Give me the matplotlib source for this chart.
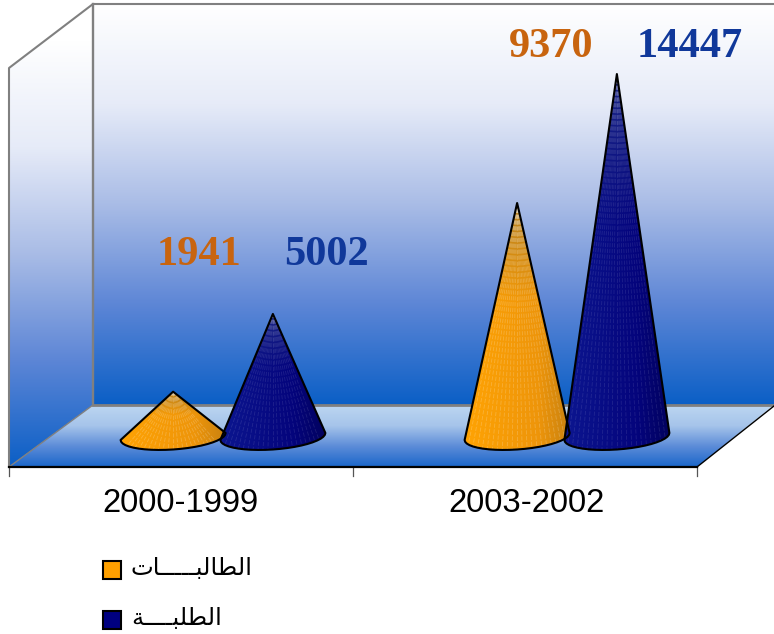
import numpy as np
import matplotlib
matplotlib.use('Agg')
import matplotlib.pyplot as plt
from matplotlib.colors import LinearSegmentedColormap, to_rgb
from matplotlib.patches import Polygon

# data
years = ['2000-1999', '2003-2002']
girls = [1941, 9370]
boys = [5002, 14447]
# arabic labels in visual order with presentation forms, matplotlib does no shaping
girls_label = '\ufe95\ufe8e' + '\u0640' * 5 + '\ufe92\ufedf\ufe8e\ufec4\ufedf\ufe8d'
boys_label = '\ufe94' + '\u0640' * 4 + '\ufe92\ufee0\ufec4\ufedf\ufe8d'

PX_PER_UNIT = 0.0254
BASE_PX = 441
CAT0_PX = 223
CAT_STEP = 344

plt.rcParams['font.family'] = ['Liberation Sans', 'DejaVu Sans']
fig = plt.figure(figsize=(7.74, 6.34), dpi=100)

# background in pixel coordinates
bg = fig.add_axes([0, 0, 1, 1])
bg.set_xlim(0, 774)
bg.set_ylim(634, 0)
bg.axis('off')

wall_cm = LinearSegmentedColormap.from_list('wall', ['#ffffff', '#e6ebf8', '#a9bce6', '#5d86d6', '#0b5fc6'])
floor_cm = LinearSegmentedColormap.from_list('floor', ['#bcd6f1', '#a6c4ea', '#5c8cd8', '#1a66ca'])
grad = np.linspace(0, 1, 256).reshape(-1, 1)


def fill_grad(pts, cm, y0, y1):
    im = bg.imshow(grad, cmap=cm, extent=[0, 774, y1, y0], aspect='auto', zorder=1)
    p = Polygon(pts, closed=True, transform=bg.transData, fc='none', ec='none')
    bg.add_patch(p)
    im.set_clip_path(p)


fill_grad([(93, 4), (774, 4), (774, 405), (93, 405)], wall_cm, 4, 405)
fill_grad([(9, 68), (93, 4), (93, 405), (9, 467)], wall_cm, 40, 467)
fill_grad([(93, 405), (774, 405), (697, 467), (9, 467)], floor_cm, 405, 467)
bg.set_xlim(0, 774)
bg.set_ylim(634, 0)

gray = '#808080'
bg.plot([9, 9, 93, 774], [467, 68, 4, 4], color=gray, lw=1.5, zorder=2)
bg.plot([93, 93], [4, 405], color=gray, lw=1.7, zorder=2)
bg.plot([93, 774], [405, 405], color=gray, lw=2, zorder=2)
bg.plot([9, 93], [467, 405], color=gray, lw=1, zorder=2)
bg.plot([697, 774], [467, 406], color='black', lw=1, zorder=2)
bg.plot([9, 697], [467, 467], color='black', lw=1.6, zorder=3)
for tx in [9, 353, 697]:
    bg.plot([tx, tx], [467, 476], color='#555555', lw=0.9, zorder=2)

# value axes over the whole figure, bars are placed through its scales
ax = fig.add_axes([0, 0, 1, 1], facecolor='none')
ax.axis('off')
xlim = (-CAT0_PX / CAT_STEP, (774 - CAT0_PX) / CAT_STEP)
ylim = (-(634 - BASE_PX) / PX_PER_UNIT, BASE_PX / PX_PER_UNIT)


def cone(x, value, dark, mid, light, apex, fan):
    hw = 52.5 / CAT_STEP
    # the base is a coarse polygon, that gives the small scallops of the original
    th = np.linspace(np.pi, 0, 23)
    t = np.cos(th)
    base_px = 436.5 - 3.5 * t + 13 * np.sin(th)
    base = (BASE_PX - base_px) / PX_PER_UNIT
    xs = x + t * hw
    pts = [(x, value)] + list(zip(xs[::-1], base[::-1]))
    ymin = base.min()
    # horizontal shading, darker near the apex
    tt = np.linspace(-1, 1, 120)
    vv = np.linspace(0, 1, 200)
    T, V = np.meshgrid(tt, vv)
    c0, c1, c2, c3 = [np.array(to_rgb(c)) for c in (light, mid, dark, apex)]
    side = ((T + 1) / 2)[..., None]
    rgb = np.where(side > 0.7, c1 + (c2 - c1) * (side - 0.7) / 0.3, c0 + (c1 - c0) * side / 0.7)
    k = np.clip((V - 0.6) / 0.4, 0, 1)[..., None]
    rgb = rgb * (1 - k) + c3 * k
    im = ax.imshow(rgb, origin='lower', extent=[x - hw, x + hw, ymin, value], aspect='auto', zorder=5)
    p = Polygon(pts, closed=True, transform=ax.transData, fc='none', ec='none', zorder=5)
    ax.add_patch(p)
    im.set_clip_path(p)
    # fan of faint facets from the apex
    for f in np.linspace(-0.95, 0.95, 21):
        ln, = ax.plot([x, x + f * hw], [value, ymin], color='white', lw=0.6, alpha=fan,
                      ls=(0, (5, 2)), zorder=6)
        ln.set_clip_path(p)
    ax.add_patch(Polygon(pts, closed=True, fc='none', ec='black', lw=1.5, joinstyle='round', zorder=7))


orange = dict(dark='#c98210', mid='#ee950a', light='#ffa303', apex='#b57f1f', fan=0.2)
navy = dict(dark='#02025f', mid='#04047c', light='#0c1690', apex='#1a2585', fan=0.1)
for i in range(len(years)):
    cone(i - 0.145, girls[i], **orange)
    cone(i + 0.145, boys[i], **navy)
ax.set_xlim(*xlim)
ax.set_ylim(*ylim)

# value labels
lab = dict(family=['Liberation Serif'], fontsize=30.5, fontweight='bold', ha='center', va='center')
orange_txt = '#c8640f'
blue_txt = '#10389a'
for i, (gx, bx, ypx) in enumerate([(199, 327, 255), (551, 690, 47)]):
    bg.text(gx, ypx, str(girls[i]), color=orange_txt, zorder=9, **lab)
    bg.text(bx, ypx, str(boys[i]), color=blue_txt, zorder=9, **lab)

# category labels
for i, cx in enumerate([180, 526]):
    bg.text(cx, 503, years[i], fontsize=23.6, ha='center', va='center', color='black')

# legend
for ypx, col, txt in [(570, '#ffa000', girls_label), (620, '#000080', boys_label)]:
    bg.add_patch(Polygon([(103, ypx - 9), (121, ypx - 9), (121, ypx + 9), (103, ypx + 9)],
                         closed=True, fc=col, ec='black', lw=1.5, zorder=4))
    bg.text(131, ypx - 2, txt, family=['DejaVu Sans'], fontsize=17.5, ha='left', va='center', color='black')

fig.savefig('out.png', dpi=100)
